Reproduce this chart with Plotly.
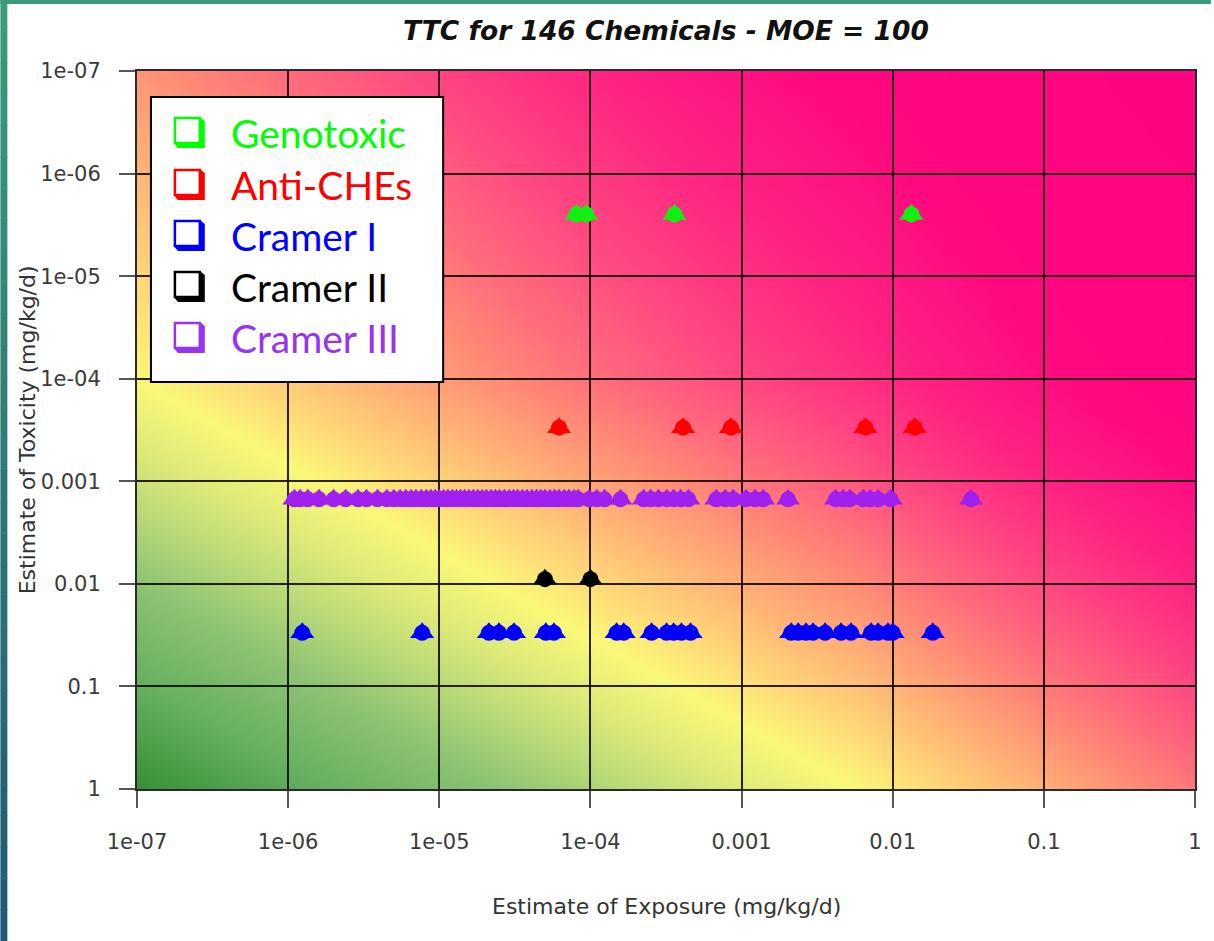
import base64
import struct
import zlib

import numpy as np
import plotly.graph_objects as go

# ---------------------------------------------------------------------------
# Data: estimated exposure (mg/kg/d) of each chemical, grouped by TTC class.
# The toxicity estimate of every chemical is the TTC value of its class.
# ---------------------------------------------------------------------------
classes = ["Genotoxic", "Anti-CHEs", "Cramer I", "Cramer II", "Cramer III"]
ttc_values = [2.5e-6, 3.0e-4, 3.0e-2, 9.0e-3, 1.5e-3]   # mg/kg/d

genotoxic_exposure = [8.1e-5, 9.4e-5, 3.6e-4, 1.33e-2]
anti_che_exposure = [6.2e-5, 4.1e-4, 8.5e-4, 6.6e-3, 1.4e-2]
cramer1_exposure = [1.24e-6, 7.7e-6, 2.13e-5, 2.48e-5, 3.12e-5, 5.07e-5, 5.73e-5,
                    1.49e-4, 1.66e-4, 2.54e-4, 3.19e-4, 3.55e-4, 4.0e-4, 4.6e-4,
                    2.13e-3, 2.37e-3, 2.67e-3, 2.97e-3, 3.57e-3, 4.55e-3, 5.3e-3,
                    7.2e-3, 8.0e-3, 9.3e-3, 1.0e-2, 1.84e-2]
cramer2_exposure = [5.0e-5, 1.0e-4]
cramer3_exposure = [1.1e-6, 1.2e-6, 1.35e-6, 1.6e-6, 2.0e-6, 2.4e-6, 2.9e-6, 3.3e-6,
                    3.9e-6, 4.5e-6, 5.0e-6, 5.5e-6, 6.0e-6, 6.5e-6, 7.0e-6, 7.6e-6,
                    8.2e-6, 8.8e-6, 9.4e-6, 1.0e-5, 1.07e-5, 1.14e-5, 1.22e-5, 1.3e-5,
                    1.38e-5, 1.47e-5, 1.57e-5, 1.68e-5, 1.8e-5, 1.92e-5, 2.05e-5,
                    2.2e-5, 2.35e-5, 2.5e-5, 2.7e-5, 2.9e-5, 3.1e-5, 3.3e-5, 3.55e-5,
                    3.8e-5, 4.1e-5, 4.4e-5, 4.7e-5, 5.0e-5, 5.4e-5, 5.8e-5, 6.2e-5,
                    6.7e-5, 7.2e-5, 7.8e-5, 8.3e-5,
                    9.8e-5, 1.1e-4, 1.24e-4, 1.58e-4, 2.25e-4, 2.5e-4, 2.82e-4, 3.2e-4,
                    3.55e-4, 3.95e-4, 4.45e-4, 6.8e-4, 7.8e-4, 8.8e-4, 1.07e-3,
                    1.23e-3, 1.39e-3, 2.03e-3, 4.2e-3, 4.7e-3, 5.2e-3, 6.4e-3, 7.1e-3,
                    8.0e-3, 9.7e-3, 3.3e-2]
exposures = [genotoxic_exposure, anti_che_exposure, cramer1_exposure,
             cramer2_exposure, cramer3_exposure]

marker_colors = ["#10f010", "#ff0000", "#0000ff", "#000000", "#a020f0"]
legend_colors = ["#00ff00", "#ff0000", "#0000ff", "#000000", "#9933ee"]

tick_vals = [1e-7, 1e-6, 1e-5, 1e-4, 1e-3, 1e-2, 1e-1, 1]
tick_text = ["1e-07", "1e-06", "1e-05", "1e-04", "0.001", "0.01", "0.1", "1"]

# ---------------------------------------------------------------------------
# Figure geometry (pixels)
# ---------------------------------------------------------------------------
W, H = 1214, 941
PL, PR, PT, PB = 137, 1198, 71, 789


def px(x):
    return (x - PL) / (PR - PL)


def py(y):
    return (PB - y) / (PB - PT)


# ---------------------------------------------------------------------------
# Background: green -> yellow -> pink -> magenta risk gradient, as a PNG
# ---------------------------------------------------------------------------
def gradient_png(w, h):
    u = (np.arange(w) + 0.5) / w
    v = 1 - (np.arange(h) + 0.5) / h
    U, V = np.meshgrid(u, v)
    s = (np.interp(U, [0.0, 0.68, 1.0], [0.0, 1.0, 1.6])
         + np.interp(V, [0.0, 0.57, 1.0], [0.0, 1.0, 1.45]))
    pos = [0.0, 0.25, 0.5, 0.7, 0.85, 1.0, 1.15, 1.35, 1.5, 1.65, 1.85, 2.1, 2.4, 3.5]
    red = [55, 100, 140, 190, 225, 250, 255, 255, 255, 255, 255, 255, 255, 255]
    grn = [145, 175, 195, 220, 235, 248, 215, 172, 140, 108, 70, 35, 8, 0]
    blu = [55, 95, 115, 120, 120, 120, 120, 118, 118, 124, 130, 130, 128, 128]
    rgb = np.stack([np.interp(s, pos, c) for c in (red, grn, blu)], axis=-1)
    rgb = np.clip(np.round(rgb), 0, 255).astype(np.uint8)
    raw = b"".join(b"\x00" + rgb[i].tobytes() for i in range(h))

    def chunk(tag, data):
        body = tag + data
        return struct.pack(">I", len(data)) + body + struct.pack(">I", zlib.crc32(body) & 0xFFFFFFFF)

    png = (b"\x89PNG\r\n\x1a\n"
           + chunk(b"IHDR", struct.pack(">IIBBBBB", w, h, 8, 2, 0, 0, 0))
           + chunk(b"IDAT", zlib.compress(raw, 9))
           + chunk(b"IEND", b""))
    return "data:image/png;base64," + base64.b64encode(png).decode("ascii")


fig = go.Figure()

# Bell-like markers: a triangle with a disc over it
for name, tox, xs, col in zip(classes, ttc_values, exposures, marker_colors):
    ys = [tox] * len(xs)
    fig.add_trace(go.Scatter(x=xs, y=ys, mode="markers", name=name, showlegend=False,
                             marker=dict(symbol="triangle-up", size=21, color=col,
                                         line=dict(width=0)),
                             hoverinfo="x+y+name"))
    fig.add_trace(go.Scatter(x=xs, y=ys, mode="markers", name=name, showlegend=False,
                             marker=dict(symbol="circle", size=16, color=col,
                                         line=dict(width=0)),
                             hoverinfo="skip"))

axis_common = dict(
    type="log", tickmode="array", tickvals=tick_vals, ticktext=tick_text,
    showgrid=True, gridcolor="rgba(20,10,10,0.9)", gridwidth=1.8,
    showline=True, mirror=True, linecolor="#2a2a2a", linewidth=2,
    ticks="outside", tickcolor="#555555", tickwidth=1.5,
    tickfont=dict(family="DejaVu Sans", size=21, color="#3a3a3a"),
    zeroline=False,
)

fig.update_xaxes(**axis_common, range=[-7.0001, 0.0001], ticklen=17, ticklabelstandoff=16)
fig.update_yaxes(**axis_common, range=[0.0001, -7.0001], ticklen=16, ticklabelstandoff=14)

shapes = []

# Frame strips along the top and left edges of the page
shapes.append(dict(type="rect", xref="paper", yref="paper", layer="above",
                   x0=px(0), x1=px(W), y0=py(4), y1=py(0),
                   fillcolor="#3c9b78", line=dict(width=0)))
n_seg = 30
top_c = np.array([60, 155, 120])
bot_c = np.array([30, 88, 118])
for i in range(n_seg):
    t = (i + 0.5) / n_seg
    c = np.round(top_c + (bot_c - top_c) * t).astype(int)
    shapes.append(dict(type="rect", xref="paper", yref="paper", layer="above",
                       x0=px(0), x1=px(7), y0=py(H * (i + 1) / n_seg + 0.5),
                       y1=py(H * i / n_seg),
                       fillcolor=f"rgb({c[0]},{c[1]},{c[2]})", line=dict(width=0)))

# Legend box
shapes.append(dict(type="rect", xref="paper", yref="paper", layer="above",
                   x0=px(151), x1=px(444), y0=py(382), y1=py(97),
                   fillcolor="white", line=dict(color="black", width=2)))

legend_rows = [117, 169, 220, 271, 322]
annotations = []
for name, col, top in zip(classes, legend_colors, legend_rows):
    x0, y0, s, d = 174, top, 26, 5
    shadow = [(x0 + s, y0), (x0 + s + d, y0 + 4), (x0 + s + d, y0 + s + d),
              (x0 + 4, y0 + s + d), (x0, y0 + s), (x0 + s, y0 + s)]
    path = "M " + " L ".join(f"{px(a):.5f},{py(b):.5f}" for a, b in shadow) + " Z"
    shapes.append(dict(type="path", xref="paper", yref="paper", layer="above",
                       path=path, fillcolor=col, line=dict(width=0)))
    shapes.append(dict(type="rect", xref="paper", yref="paper", layer="above",
                       x0=px(x0 + 1), x1=px(x0 + s), y0=py(y0 + s), y1=py(y0 + 1),
                       fillcolor="white", line=dict(color=col, width=2.5)))
    annotations.append(dict(text=name, xref="paper", yref="paper", x=px(229),
                            y=py(top + 16), xanchor="left", yanchor="middle",
                            showarrow=False,
                            font=dict(family="Lato", size=39, color=col)))

# Title and axis titles
annotations.append(dict(text="<b><i>TTC for 146 Chemicals - MOE = 100</i></b>",
                        xref="paper", yref="paper", x=0.5, y=py(31),
                        xanchor="center", yanchor="middle", showarrow=False,
                        font=dict(family="DejaVu Sans", size=26.5, color="#111111")))
annotations.append(dict(text="Estimate of Exposure (mg/kg/d)", xref="paper", yref="paper",
                        x=0.5, y=py(906), xanchor="center", yanchor="middle",
                        showarrow=False,
                        font=dict(family="DejaVu Sans", size=22, color="#333333")))
annotations.append(dict(text="Estimate of Toxicity (mg/kg/d)", xref="paper", yref="paper",
                        x=px(27), y=0.5, xanchor="center", yanchor="middle",
                        textangle=-90, showarrow=False,
                        font=dict(family="DejaVu Sans", size=22, color="#333333")))

fig.update_layout(
    width=W, height=H,
    margin=dict(l=PL, r=W - PR, t=PT, b=H - PB, pad=0),
    paper_bgcolor="white",
    plot_bgcolor="rgba(0,0,0,0)",
    showlegend=False,
    shapes=shapes,
    annotations=annotations,
    images=[dict(source=gradient_png(530, 359), xref="paper", yref="paper",
                 x=0, y=1, sizex=1, sizey=1, xanchor="left", yanchor="top",
                 sizing="stretch", layer="below")],
)

fig.write_html("out.html")
